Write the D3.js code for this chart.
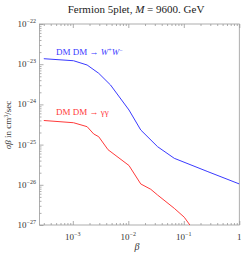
<!DOCTYPE html>
<html><head><meta charset="utf-8">
<script src="https://cdn.jsdelivr.net/npm/d3@7"></script>
<style>
html,body{margin:0;padding:0;background:#fff;}
svg{display:block;font-family:"Liberation Serif","DejaVu Serif",serif;}
</style></head>
<body><svg id="c" width="241" height="255"></svg>
<script>
const title = "Fermion 5plet, ";
const seriesNames = ["DM DM \u2192 ", "DM DM \u2192 \u03B3\u03B3"];
const blueBeta = [0.0003, 0.00103, 0.00181, 0.00293, 0.00478, 0.01028, 0.01675, 0.0337, 0.0673, 0.272, 1];
const blueSigma = [1.37e-23, 1.22e-23, 9.55e-24, 5.94e-24, 3.04e-24, 7.26e-25, 2.31e-25, 8.87e-26, 4.56e-26, 2.12e-26, 1.05e-26];
const redBeta = [0.0003, 0.00103, 0.00181, 0.00238, 0.00293, 0.00431, 0.01028, 0.01675, 0.0254, 0.0337, 0.0673, 0.102, 0.135, 0.166];
const redSigma = [3.98e-25, 3.5e-25, 2.79e-25, 1.84e-25, 1.57e-25, 7.46e-26, 3.02e-26, 1.05e-26, 7.73e-27, 5.57e-27, 2.60e-27, 1.56e-27, 9.1e-28, 6.3e-28];
const xMajor = [0.001, 0.01, 0.1, 1];
const xMajorExp = ["\u22123", "\u22122", "\u22121", null];
const yMajor = [1e-22, 1e-23, 1e-24, 1e-25, 1e-26, 1e-27];
const yMajorExp = ["\u221222", "\u221223", "\u221224", "\u221225", "\u221226", "\u221227"];

const svg = d3.select("#c");
const L = 39.5, R = 239.3, T = 24, B = 225;
const x = d3.scaleLog().domain([2.51e-4, 1]).range([L, R]);
const y = d3.scaleLog().domain([1e-27, 1e-22]).range([B, T]);

// minor ticks
const xMinor = [];
for (let e = -4; e <= -1; e++) for (let k = 2; k <= 9; k++) { const v = k * Math.pow(10, e); if (v >= 2.51e-4 && v < 1) xMinor.push(v); }
const yMinor = [];
for (let e = -27; e <= -23; e++) for (let k = 2; k <= 9; k++) yMinor.push(k * Math.pow(10, e));

const gray = "#999";
function styleAxis(g) { g.select(".domain").remove(); g.selectAll("line").attr("stroke", gray).attr("stroke-width", 0.8); }

svg.append("g").attr("transform", `translate(0,${B})`).call(d3.axisBottom(x).tickValues(xMinor).tickSize(-2).tickFormat("")).call(styleAxis);
svg.append("g").attr("transform", `translate(0,${B})`).call(d3.axisBottom(x).tickValues(xMajor).tickSize(-4).tickFormat("")).call(styleAxis);
svg.append("g").attr("transform", `translate(0,${T})`).call(d3.axisTop(x).tickValues(xMinor).tickSize(-2).tickFormat("")).call(styleAxis);
svg.append("g").attr("transform", `translate(0,${T})`).call(d3.axisTop(x).tickValues(xMajor).tickSize(-4).tickFormat("")).call(styleAxis);
svg.append("g").attr("transform", `translate(${L},0)`).call(d3.axisLeft(y).tickValues(yMinor).tickSize(-2).tickFormat("")).call(styleAxis);
svg.append("g").attr("transform", `translate(${L},0)`).call(d3.axisLeft(y).tickValues(yMajor).tickSize(-4).tickFormat("")).call(styleAxis);

svg.append("rect").attr("x", L).attr("y", T).attr("width", R - L).attr("height", B - T)
  .attr("fill", "none").attr("stroke", gray).attr("stroke-width", 0.8);

xMajor.forEach((v, i) => {
  const t = svg.append("text").attr("x", x(v)).attr("y", B + 15).attr("text-anchor", "middle")
    .attr("font-size", 9).attr("fill", "#333");
  if (xMajorExp[i] === null) { t.text("1"); }
  else {
    t.append("tspan").text("10");
    t.append("tspan").attr("font-size", 6).attr("dy", -4).text(xMajorExp[i]);
  }
});
yMajor.forEach((v, i) => {
  const t = svg.append("text").attr("x", 36).attr("y", y(v) + 3).attr("text-anchor", "end")
    .attr("font-size", 9).attr("fill", "#333");
  t.append("tspan").text("10");
  t.append("tspan").attr("font-size", 6).attr("dy", -4).text(yMajorExp[i]);
});

svg.append("clipPath").attr("id", "clip").append("rect").attr("x", L).attr("y", T).attr("width", R - L).attr("height", B - T);

const line = d3.line().x(d => x(d[0])).y(d => y(d[1]));
svg.append("path").attr("clip-path", "url(#clip)").datum(blueBeta.map((b, i) => [b, blueSigma[i]]))
  .attr("d", line).attr("fill", "none").attr("stroke", "#3a3aff").attr("stroke-width", 1);
svg.append("path").attr("clip-path", "url(#clip)").datum(redBeta.map((b, i) => [b, redSigma[i]]))
  .attr("d", line).attr("fill", "none").attr("stroke", "#ff3a3a").attr("stroke-width", 1);

const lb = svg.append("text").attr("x", 56).attr("y", 55).attr("font-size", 9).attr("fill", "#3a3aff");
lb.append("tspan").text(seriesNames[0]);
lb.append("tspan").attr("font-style", "italic").text("W");
lb.append("tspan").attr("font-size", 6).attr("dy", -3.5).text("+");
lb.append("tspan").attr("font-style", "italic").attr("dy", 3.5).text("W");
lb.append("tspan").attr("font-size", 6).attr("dy", -3.5).text("\u2212");
svg.append("text").attr("x", 56).attr("y", 115).attr("font-size", 9).attr("fill", "#ff3a3a").text(seriesNames[1]);

const tt = svg.append("text").attr("x", 136).attr("y", 13).attr("text-anchor", "middle").attr("font-size", 11).attr("fill", "#222");
tt.append("tspan").text(title);
tt.append("tspan").attr("font-style", "italic").text("M");
tt.append("tspan").text(" = 9600. GeV");

svg.append("text").attr("x", 137).attr("y", 250).attr("text-anchor", "middle").attr("font-size", 10)
  .attr("font-style", "italic").attr("fill", "#333").text("\u03B2");
const yl = svg.append("text").attr("transform", `translate(11,125) rotate(-90)`).attr("text-anchor", "middle")
  .attr("font-size", 9).attr("fill", "#333");
yl.append("tspan").attr("font-style", "italic").text("\u03C3\u03B2");
yl.append("tspan").text(" in cm");
yl.append("tspan").attr("font-size", 6).attr("dy", -3.5).text("3");
yl.append("tspan").attr("dy", 3.5).text("/sec");
</script></body></html>
